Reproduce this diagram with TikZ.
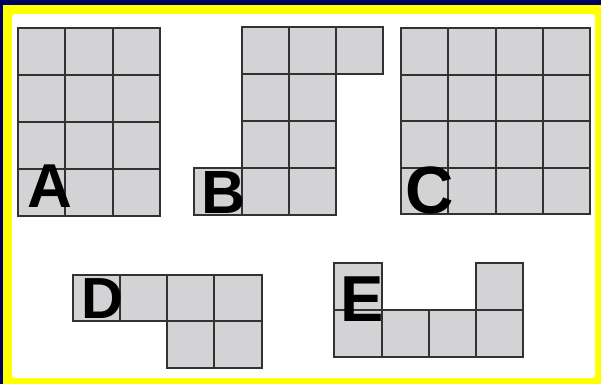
\documentclass[tikz,border=0pt]{standalone}
\usepackage{fontspec}
\setmainfont{Liberation Sans}
\definecolor{navy}{RGB}{0,0,95}
\definecolor{frameyellow}{RGB}{255,255,0}
\definecolor{cellgray}{RGB}{211,211,213}
\definecolor{cellline}{RGB}{50,50,50}
\tikzset{
  cellbox/.style={fill=cellgray,draw=cellline,line width=1.8bp},
  letter/.style={text=black,inner sep=0pt,anchor=base}
}
\newcommand\cellrect[4]{\draw[cellbox] (#1,#2) rectangle (#3,#4);}
\newcommand\lfont[1]{\fontsize{#1bp}{#1bp}\selectfont\bfseries}
\begin{document}
\begin{tikzpicture}[x=1bp,y=-1bp]
\useasboundingbox (0,0) rectangle (601,383);
\fill[frameyellow] (-2,-2) rectangle (603,385);
\fill[navy] (-2,-2) rectangle (603,5);
\fill[navy] (-2,-2) rectangle (3,385);
\fill[frameyellow] (3,11) arc[start angle=180,end angle=90,radius=6] -- (12,5) -- (12,14) -- (3,14) -- cycle;
\fill[white,rounded corners=3bp] (12,14) rectangle (595,378);
% A : 3 x 4
\foreach \xa/\xb in {18/65.3,65.3/112.7,112.7/160}{
  \foreach \ya/\yb in {28/75,75/122,122/169,169/216}{
    \cellrect{\xa}{\ya}{\xb}{\yb}
  }
}
% B
\foreach \xa/\xb in {242/289,289/336,336/383}{\cellrect{\xa}{27}{\xb}{74}}
\foreach \xa/\xb in {242/289,289/336}{
  \foreach \ya/\yb in {74/121,121/168,168/215}{\cellrect{\xa}{\ya}{\xb}{\yb}}
}
\cellrect{194}{168}{242}{215}
% C : 4 x 4
\foreach \xa/\xb in {401/448,448/496,496/543,543/590}{
  \foreach \ya/\yb in {28/75,75/121,121/168,168/214}{\cellrect{\xa}{\ya}{\xb}{\yb}}
}
% D
\foreach \xa/\xb in {73/120,120/167,167/214,214/262}{\cellrect{\xa}{275}{\xb}{321}}
\foreach \xa/\xb in {167/214,214/262}{\cellrect{\xa}{321}{\xb}{368}}
% E
\cellrect{334}{263}{382}{310}
\cellrect{476}{263}{523}{310}
\foreach \xa/\xb in {334/382,382/429,429/476,476/523}{\cellrect{\xa}{310}{\xb}{357}}
% letters
\node[letter,font=\lfont{62}] (la) at (49.5,207) {A};
\node[letter,font=\lfont{61}] (lb) at (224,213) {B};
\node[letter,font=\lfont{67}] (lc) at (430,213) {C};
\node[letter,font=\lfont{58}] (ld) at (102,318) {D};
\node[letter,font=\lfont{65}] (le) at (362,321) {E};
\end{tikzpicture}
\end{document}
